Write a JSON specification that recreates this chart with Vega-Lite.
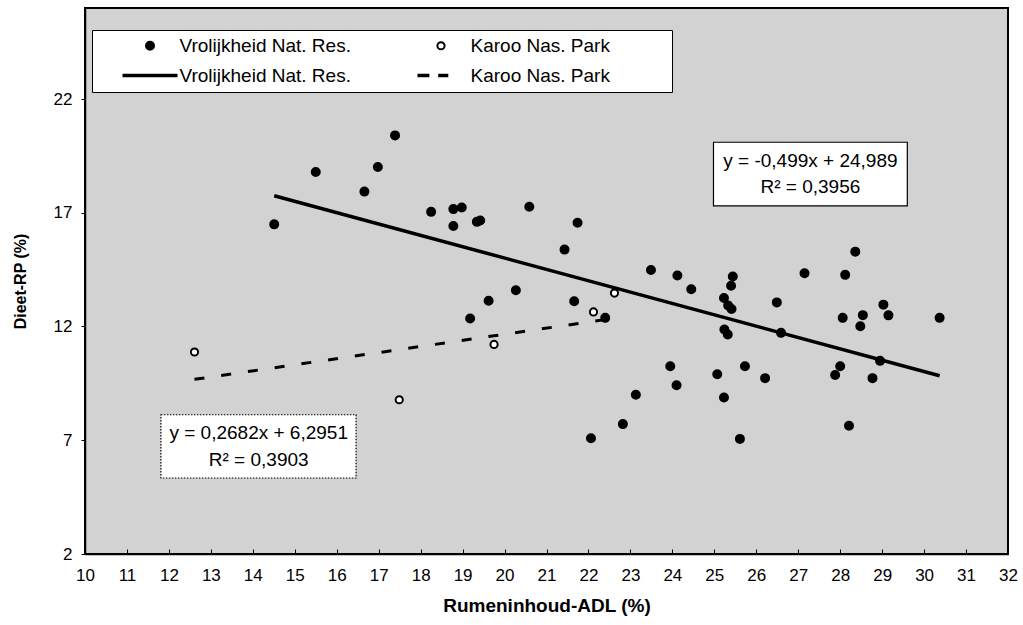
{
  "$schema": "https://vega.github.io/schema/vega-lite/v6.json",
  "width": 923,
  "height": 546,
  "autosize": {"type": "none"},
  "padding": {"left": 85, "top": 8, "right": 15, "bottom": 71},
  "background": "white",
  "config": {
    "view": {"fill": "#d2d2d2", "stroke": "black", "strokeWidth": 2},
    "axis": {
      "grid": false,
      "domainColor": "black",
      "domainWidth": 1.5,
      "tickColor": "black",
      "tickSize": 4,
      "tickWidth": 1,
      "labelFont": "Liberation Sans",
      "labelFontSize": 17,
      "labelColor": "black",
      "titleFont": "Liberation Sans",
      "titleFontWeight": "bold",
      "titleColor": "black"
    },
    "legend": {
      "orient": "none",
      "legendX": 7,
      "legendY": 22,
      "columns": 2,
      "fillColor": "white",
      "strokeColor": "black",
      "padding": 6,
      "labelFont": "Liberation Sans",
      "labelFontSize": 19,
      "labelColor": "black",
      "labelLimit": 0,
      "symbolSize": 81,
      "symbolStrokeColor": "black",
      "symbolStrokeWidth": 2,
      "symbolOffset": 42.5,
      "labelOffset": 20,
      "columnPadding": 38,
      "rowPadding": 10
    }
  },
  "encoding": {
    "x": {
      "field": "x",
      "type": "quantitative",
      "scale": {"domain": [10, 32], "nice": false, "zero": false},
      "axis": {
        "title": "Rumeninhoud-ADL (%)",
        "titleFontSize": 19,
        "titlePadding": 13,
        "values": [10, 11, 12, 13, 14, 15, 16, 17, 18, 19, 20, 21, 22, 23, 24, 25, 26, 27, 28, 29, 30, 31, 32],
        "tickSize": -5,
        "labelPadding": 18,
        "labelFlush": false
      }
    },
    "y": {
      "field": "y",
      "type": "quantitative",
      "scale": {"domain": [2, 26], "nice": false, "zero": false},
      "axis": {
        "title": "Dieet-RP (%)",
        "titleFontSize": 16,
        "titlePadding": 25,
        "values": [2, 7, 12, 17, 22],
        "labelPadding": 9,
        "labelFlush": false
      }
    }
  },
  "layer": [
    {
      "data": {"values": [
        {"x": 14.51, "y": 17.748, "line": "V"},
        {"x": 30.37, "y": 9.834, "line": "V"}
      ]},
      "mark": {"type": "line", "color": "black", "strokeWidth": 3.5},
      "encoding": {}
    },
    {
      "data": {"values": [
        {"x": 12.61, "y": 9.677, "line": "K"},
        {"x": 22.62, "y": 12.362, "line": "K"}
      ]},
      "mark": {"type": "line", "color": "black", "strokeWidth": 3, "strokeDash": [10, 17]},
      "encoding": {}
    },
    {
      "data": {"values": [
        {"x": 14.51, "y": 16.49, "key": "V1"},
        {"x": 15.50, "y": 18.79, "key": "V1"},
        {"x": 16.66, "y": 17.93, "key": "V1"},
        {"x": 16.98, "y": 19.01, "key": "V1"},
        {"x": 17.39, "y": 20.40, "key": "V1"},
        {"x": 18.25, "y": 17.04, "key": "V1"},
        {"x": 18.78, "y": 17.16, "key": "V1"},
        {"x": 18.98, "y": 17.23, "key": "V1"},
        {"x": 18.78, "y": 16.42, "key": "V1"},
        {"x": 19.34, "y": 16.60, "key": "V1"},
        {"x": 19.42, "y": 16.66, "key": "V1"},
        {"x": 20.59, "y": 17.26, "key": "V1"},
        {"x": 21.74, "y": 16.56, "key": "V1"},
        {"x": 21.43, "y": 15.38, "key": "V1"},
        {"x": 20.27, "y": 13.59, "key": "V1"},
        {"x": 19.62, "y": 13.13, "key": "V1"},
        {"x": 19.18, "y": 12.35, "key": "V1"},
        {"x": 21.66, "y": 13.11, "key": "V1"},
        {"x": 22.40, "y": 12.38, "key": "V1"},
        {"x": 23.49, "y": 14.48, "key": "V1"},
        {"x": 24.12, "y": 14.24, "key": "V1"},
        {"x": 24.45, "y": 13.64, "key": "V1"},
        {"x": 23.95, "y": 10.25, "key": "V1"},
        {"x": 24.10, "y": 9.42, "key": "V1"},
        {"x": 23.13, "y": 9.00, "key": "V1"},
        {"x": 22.82, "y": 7.71, "key": "V1"},
        {"x": 22.06, "y": 7.09, "key": "V1"},
        {"x": 25.44, "y": 14.20, "key": "V1"},
        {"x": 25.40, "y": 13.79, "key": "V1"},
        {"x": 25.23, "y": 13.25, "key": "V1"},
        {"x": 25.33, "y": 12.92, "key": "V1"},
        {"x": 25.41, "y": 12.77, "key": "V1"},
        {"x": 25.24, "y": 11.87, "key": "V1"},
        {"x": 25.32, "y": 11.65, "key": "V1"},
        {"x": 26.49, "y": 13.06, "key": "V1"},
        {"x": 26.59, "y": 11.72, "key": "V1"},
        {"x": 27.15, "y": 14.34, "key": "V1"},
        {"x": 28.12, "y": 14.27, "key": "V1"},
        {"x": 28.36, "y": 15.29, "key": "V1"},
        {"x": 28.06, "y": 12.38, "key": "V1"},
        {"x": 28.54, "y": 12.50, "key": "V1"},
        {"x": 28.48, "y": 12.01, "key": "V1"},
        {"x": 29.03, "y": 12.96, "key": "V1"},
        {"x": 29.15, "y": 12.49, "key": "V1"},
        {"x": 30.37, "y": 12.38, "key": "V1"},
        {"x": 28.95, "y": 10.49, "key": "V1"},
        {"x": 25.73, "y": 10.25, "key": "V1"},
        {"x": 25.07, "y": 9.90, "key": "V1"},
        {"x": 26.21, "y": 9.73, "key": "V1"},
        {"x": 25.23, "y": 8.88, "key": "V1"},
        {"x": 25.61, "y": 7.06, "key": "V1"},
        {"x": 28.00, "y": 10.25, "key": "V1"},
        {"x": 27.88, "y": 9.87, "key": "V1"},
        {"x": 28.77, "y": 9.73, "key": "V1"},
        {"x": 28.21, "y": 7.64, "key": "V1"},
        {"x": 12.61, "y": 10.88, "key": "K1"},
        {"x": 17.49, "y": 8.78, "key": "K1"},
        {"x": 19.75, "y": 11.21, "key": "K1"},
        {"x": 22.12, "y": 12.64, "key": "K1"},
        {"x": 22.62, "y": 13.47, "key": "K1"}
      ]},
      "mark": {"type": "point", "size": 81, "strokeWidth": 2, "opacity": 1},
      "encoding": {
        "shape": {
          "field": "key",
          "type": "nominal",
          "scale": {
            "domain": ["V1", "V2", "K1", "K2"],
            "range": [
              "M0.889,0A0.889,0.889,0,1,1,-0.889,0A0.889,0.889,0,1,1,0.889,0Z",
              "M-5.89,-0.15H5.89V0.15H-5.89Z",
              "M0.8,0A0.8,0.8,0,1,1,-0.8,0A0.8,0.8,0,1,1,0.8,0Z",
              "M-5,-0.15H-2.8V0.15H-5ZM-0.4,-0.15H1.4V0.15H-0.4Z"
            ]
          },
          "legend": {"title": null, "labelExpr": "datum.label[0] == 'V' ? 'Vrolijkheid Nat. Res.' : 'Karoo Nas. Park\u2800\u2800\u2800\u2800'"}
        },
        "fill": {
          "field": "key",
          "type": "nominal",
          "scale": {"domain": ["V1", "V2", "K1", "K2"], "range": ["black", "black", "white", "black"]},
          "legend": {"title": null, "labelExpr": "datum.label[0] == 'V' ? 'Vrolijkheid Nat. Res.' : 'Karoo Nas. Park\u2800\u2800\u2800\u2800'"}
        },
        "stroke": {
          "field": "key",
          "type": "nominal",
          "scale": {"domain": ["V1", "V2", "K1", "K2"], "range": ["black", "black", "black", "black"]},
          "legend": {"title": null, "labelExpr": "datum.label[0] == 'V' ? 'Vrolijkheid Nat. Res.' : 'Karoo Nas. Park\u2800\u2800\u2800\u2800'"}
        }
      }
    },
    {
      "data": {"values": [
        {"x": 24.98, "x2": 29.60, "y": 17.30, "y2": 20.10}
      ]},
      "mark": {"type": "rect", "fill": "white", "stroke": "black", "strokeWidth": 1.2},
      "encoding": {"x2": {"field": "x2"}, "y2": {"field": "y2"}}
    },
    {
      "data": {"values": [
        {"x": 11.81, "x2": 16.46, "y": 5.34, "y2": 8.12}
      ]},
      "mark": {"type": "rect", "fill": "white", "stroke": "black", "strokeWidth": 1.2, "strokeDash": [1.5, 1.5]},
      "encoding": {"x2": {"field": "x2"}, "y2": {"field": "y2"}}
    },
    {
      "data": {"values": [
        {"x": 27.29, "y": 19.27, "label": "y = -0,499x + 24,989"},
        {"x": 27.29, "y": 18.13, "label": "R² = 0,3956"},
        {"x": 14.14, "y": 7.32, "label": "y = 0,2682x + 6,2951"},
        {"x": 14.14, "y": 6.14, "label": "R² = 0,3903"}
      ]},
      "mark": {"type": "text", "font": "Liberation Sans", "fontSize": 19, "color": "black", "align": "center", "baseline": "middle"},
      "encoding": {"text": {"field": "label"}}
    }
  ]
}
